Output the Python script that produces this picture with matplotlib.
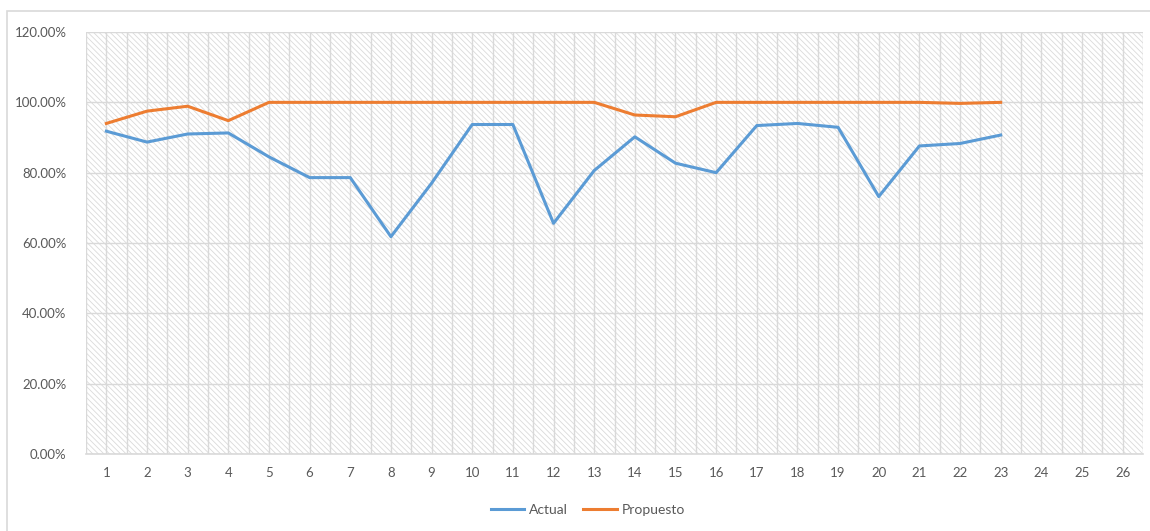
import matplotlib
matplotlib.use('Agg')
import matplotlib.pyplot as plt
from matplotlib.patches import Rectangle
from matplotlib.ticker import FuncFormatter, MultipleLocator

# Data
categories = list(range(1, 27))
actual_x = list(range(1, 24))
actual = [91.8, 88.7, 91.0, 91.3, 84.5, 78.6, 78.6, 61.8, 77.0, 93.7, 93.7, 65.6,
          80.6, 90.2, 82.7, 80.0, 93.4, 94.0, 92.9, 73.2, 87.6, 88.3, 90.7]
propuesto = [94.0, 97.5, 98.9, 94.8, 100, 100, 100, 100, 100, 100, 100, 100,
             100, 96.4, 95.9, 100, 100, 100, 100, 100, 100, 99.7, 100]
yticks = [0, 20, 40, 60, 80, 100, 120]

plt.rcParams['font.family'] = ['Lato', 'DejaVu Sans']
plt.rcParams['hatch.linewidth'] = 0.6
text_color = '#595959'
grid_color = '#d9d9d9'

fig = plt.figure(figsize=(11.5, 5.31), dpi=100)
fig.patches.append(Rectangle((0.006, -0.01), 1.0, 0.99, transform=fig.transFigure,
                             facecolor='none', edgecolor=grid_color, lw=1.2))
ax = fig.add_axes([0.0748, 0.145, 0.9191, 0.7947])

# hatched plot background
ax.add_patch(Rectangle((0, 0), 1, 1, transform=ax.transAxes, facecolor='white',
                       edgecolor='#dadada', hatch='\\\\\\\\\\\\', lw=0, zorder=0))

ax.plot(actual_x, actual, color='#5B9BD5', lw=2.2, label='Actual', zorder=3)
ax.plot(actual_x, propuesto, color='#ED7D31', lw=2.2, label='Propuesto', zorder=3)

ax.set_xlim(0.5, 26.5)
ax.set_ylim(0, 120)
ax.set_xticks(categories)
ax.set_yticks(yticks)
ax.yaxis.set_major_formatter(FuncFormatter(lambda v, p: f'{v:.2f}%'))
ax.xaxis.set_minor_locator(MultipleLocator(1, offset=0.5))

ax.grid(True, which='major', color=grid_color, lw=1.0, zorder=1)
ax.grid(True, which='minor', axis='x', color=grid_color, lw=1.0, zorder=1)
ax.set_axisbelow(True)

for s in ['top', 'right', 'left']:
    ax.spines[s].set_visible(False)
ax.spines['bottom'].set_color(grid_color)
ax.spines['bottom'].set_linewidth(1.2)
ax.tick_params(axis='both', which='both', length=0, labelsize=9.5, colors=text_color)
ax.tick_params(axis='x', pad=9)
ax.tick_params(axis='y', pad=14)

leg = ax.legend(loc='center', bbox_to_anchor=(0.475, -0.133), ncol=2, frameon=False,
                fontsize=10, handlelength=2.4, columnspacing=1.1, handletextpad=0.35,
                borderpad=0, borderaxespad=0)
for t in leg.get_texts():
    t.set_color(text_color)

fig.savefig('out.png', dpi=100)
